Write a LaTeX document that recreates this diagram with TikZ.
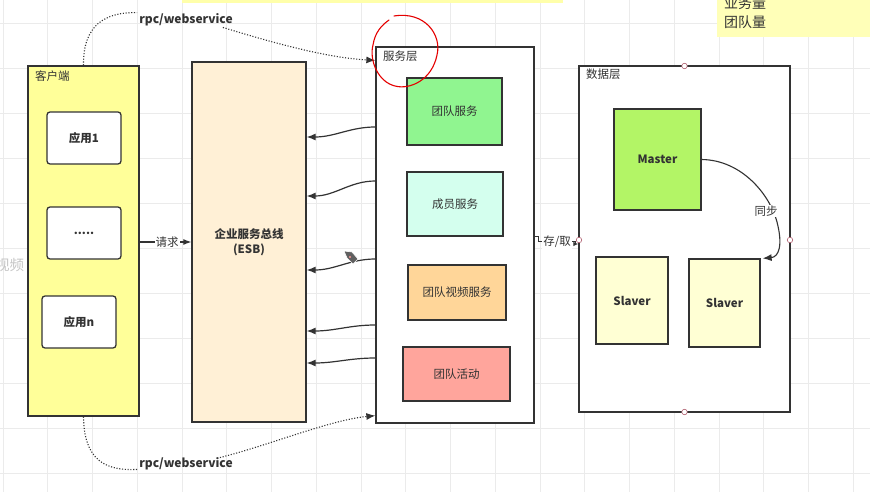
\documentclass[tikz,border=0pt]{standalone}
\usepackage{fontspec}
\setmainfont{Noto Sans CJK SC}
\usetikzlibrary{arrows.meta}
\definecolor{linec}{HTML}{333333}
\definecolor{gridc}{HTML}{EBEBEB}
\definecolor{clientc}{HTML}{FFFF99}
\definecolor{esbc}{HTML}{FFF0D6}
\definecolor{greenc}{HTML}{90F590}
\definecolor{cyanc}{HTML}{D4FFEE}
\definecolor{orangec}{HTML}{FFD699}
\definecolor{redc}{HTML}{FFA59C}
\definecolor{masterc}{HTML}{B3F566}
\definecolor{slavec}{HTML}{FFFFD4}
\definecolor{notec}{HTML}{FFFFB8}
\definecolor{stripc}{HTML}{FFFFAA}
\definecolor{pointc}{HTML}{B06070}
\tikzset{
  box/.style={draw=linec, line width=1.3pt, rectangle, inner sep=0pt, text=linec},
  appbox/.style={box, fill=white, rounded corners=3pt, minimum width=74pt, minimum height=52pt, font=\fontsize{11.5}{13}\selectfont\bfseries},
  svcbox/.style={box, font=\fontsize{11.5}{13}\selectfont},
  dbbox/.style={box, font=\fontsize{11.5}{13}\selectfont\bfseries},
  title/.style={anchor=west, text=linec, inner sep=0pt, font=\fontsize{11.5}{13}\selectfont},
  sarrow/.style={draw=linec, line width=1.2pt, -{Latex[length=9pt,width=7pt]}},
  rpcline/.style={draw=linec, line width=1.1pt, dash pattern=on 1.1pt off 1.7pt},
  rpclabel/.style={inner sep=2pt, text=linec, font=\fontsize{12}{14}\selectfont\bfseries},
  cpoint/.style={circle, draw=pointc, fill=white, line width=0.6pt, inner sep=0pt, minimum size=5.5pt}
}
\begin{document}
\begin{tikzpicture}[x=1pt,y=-1pt]
\useasboundingbox (0,0) rectangle (870,492);
\fill[white] (0,0) rectangle (870,492);
% grid
\foreach \i in {0,...,19} \draw[gridc, line width=0.6pt] ({3+44.75*\i},0) -- ({3+44.75*\i},492);
\foreach \j in {0,...,10} \draw[gridc, line width=0.6pt] (0,{23+45*\j}) -- (870,{23+45*\j});
% top strip and note
\fill[stripc] (182,0) rectangle (563,3);
\fill[notec] (717,0) rectangle (870,37);
\node[anchor=west, inner sep=0pt, text=linec, font=\fontsize{14}{16}\selectfont] (n1) at (724,3) {业务量};
\node[anchor=west, inner sep=0pt, text=linec, font=\fontsize{14}{16}\selectfont] (n2) at (724,22) {团队量};
% faint text at left
\node[anchor=west, inner sep=0pt, text=gray!45, font=\fontsize{14.5}{16}\selectfont] (vid) at (-5,265) {视频};

% client
\node[box, fill=clientc, minimum width=111pt, minimum height=350pt] (client) at (83.5,241) {};
\node[title] (clientT) at (35,76) {客户端};
\node[appbox] (app1) at (84,138) {应用1};
\node[appbox] (appd) at (84,233) {.....};
\node[appbox] (appn) at (79,322) {应用n};

% ESB
\node[box, fill=esbc, minimum width=114pt, minimum height=360pt, align=center, font=\fontsize{11.5}{15}\selectfont\bfseries] (esb) at (249,242) {企业服务总线\\(ESB)};

% service layer
\node[box, fill=white, minimum width=158pt, minimum height=376pt] (serv) at (455,235) {};
\node[title] (servT) at (383,56) {服务层};
\node[svcbox, fill=greenc, minimum width=95pt, minimum height=67pt] (s1) at (454.5,111.5) {团队服务};
\node[svcbox, fill=cyanc, minimum width=96pt, minimum height=64pt] (s2) at (455,204) {成员服务};
\node[svcbox, fill=orangec, minimum width=98pt, minimum height=55pt] (s3) at (457,292.5) {团队视频服务};
\node[svcbox, fill=redc, minimum width=107pt, minimum height=54pt] (s4) at (456.5,374) {团队活动};

% data layer
\node[box, fill=white, minimum width=211pt, minimum height=346pt] (data) at (684.5,239) {};
\node[title] (dataT) at (586,74) {数据层};
\node[dbbox, fill=masterc, minimum width=87pt, minimum height=101pt] (master) at (657.5,159.5) {Master};
\node[dbbox, fill=slavec, minimum width=72pt, minimum height=87pt] (sl1) at (632,300.5) {Slaver};
\node[dbbox, fill=slavec, minimum width=71pt, minimum height=88pt] (sl2) at (724.5,303) {Slaver};
\node[cpoint] (p1) at (684.5,66) {};
\node[cpoint] (p2) at (579,240) {};
\node[cpoint] (p3) at (790,240) {};
\node[cpoint] (p4) at (684.5,412) {};

% sync curve
\draw[sarrow, line width=1.1pt] (master.east) .. controls (742,160) and (770,195) .. (777,222) .. controls (783,245) and (779,257) .. ([xshift=2pt]sl2.north east);
\node[inner sep=1pt, fill=white, text=linec, font=\fontsize{11.5}{13}\selectfont] (syncL) at (766,211) {同步};

% request arrow
\draw[sarrow, -{Latex[length=8pt,width=6pt]}] (client.east |- 0,242) -- (esb.west |- 0,242);
\node[inner sep=1pt, fill=white, text=linec, font=\fontsize{11.5}{13}\selectfont] (reqL) at (167,242) {请求};

% service -> ESB arrows
\draw[sarrow] (serv.west |- 0,127) .. controls (350,127) and (335,137) .. (esb.east |- 0,137);
\draw[sarrow] (serv.west |- 0,181) .. controls (350,181) and (335,196) .. (esb.east |- 0,196);
\draw[sarrow] (serv.west |- 0,259) .. controls (350,259) and (335,270) .. (esb.east |- 0,270);
\draw[sarrow] (serv.west |- 0,325) .. controls (350,325) and (335,331) .. (esb.east |- 0,331);
\draw[sarrow] (serv.west |- 0,358) .. controls (350,358) and (335,363) .. (esb.east |- 0,363);

% store / fetch
\draw[draw=linec, line width=1pt, -{Latex[length=5pt,width=4.5pt]}] (serv.east |- 0,236) -- ++(4,0) -- ++(0,5) -- ++(37,0) -- ++(0,3) -- (data.west |- 0,244);
\node[inner sep=1pt, fill=white, text=linec, font=\fontsize{11.5}{13}\selectfont] (sfL) at (557,242) {存/取};

% rpc/webservice top
\node[rpclabel] (rpcT) at (186,20) {rpc/webservice};
\draw[rpcline] (client.north) .. controls (83,25) and (105,12) .. ([yshift=-1pt]rpcT.north west);
\draw[rpcline, -{Latex[length=9pt,width=7pt]}] ([xshift=-12pt,yshift=1pt]rpcT.south east) .. controls (280,45) and (330,58) .. ([yshift=-14pt]serv.north west);
% rpc/webservice bottom
\node[rpclabel] (rpcB) at (186,464) {rpc/webservice};
\draw[rpcline] (client.south) .. controls (84,460) and (105,471) .. ([yshift=3pt]rpcB.south west);
\draw[rpcline, -{Latex[length=9pt,width=7pt]}] ([xshift=-15pt,yshift=-2pt]rpcB.north east) .. controls (270,445) and (330,420) .. ([yshift=8pt]serv.south west);

% red hand-drawn circle
\draw[red!90!black, line width=1.1pt, line cap=round] (394,16) .. controls (425,11) and (442,35) .. (437,55) .. controls (432,80) and (410,90) .. (395,86) .. controls (378,82) and (369,60) .. (373,45) .. controls (375,32) and (382,25) .. (389,20);

% cursor icon
\fill[gray!75!black, draw=white, line width=0.6pt] (344,251) -- (352,252) -- (358,259) -- (353,264) -- (347,258) -- cycle;
\fill[pink!80!red] (350,257) circle (1.2pt);
\end{tikzpicture}
\end{document}
